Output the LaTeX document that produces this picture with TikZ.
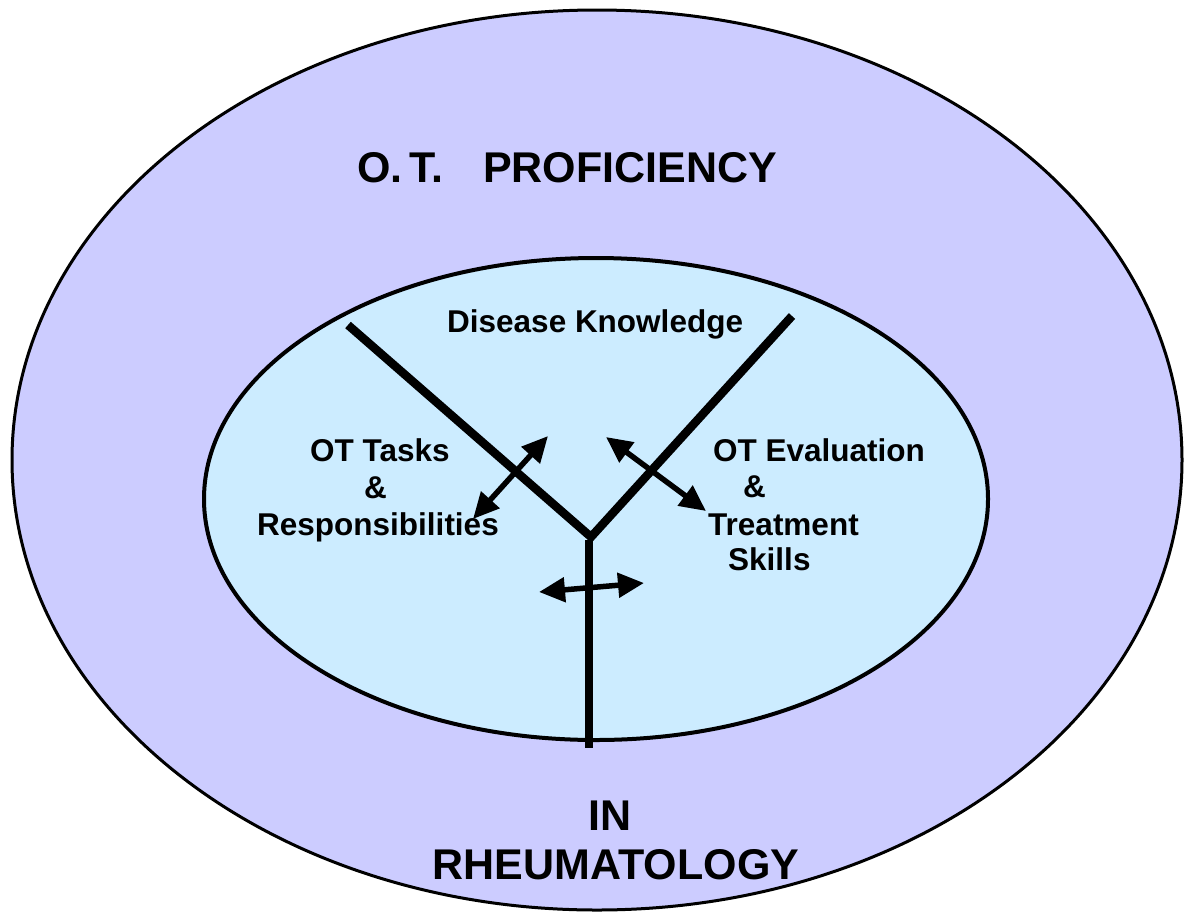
\documentclass[tikz,border=0pt]{standalone}
\usepackage{fontspec}
\setmainfont{Liberation Sans}
\usetikzlibrary{arrows.meta,shapes.geometric}
\definecolor{outerfill}{RGB}{204,204,255}
\definecolor{innerfill}{RGB}{204,236,255}
\begin{document}
\begin{tikzpicture}[x=1pt,y=-1pt,
  ring/.style={ellipse,draw=black,inner sep=0pt},
  bigtxt/.style={font=\fontsize{43}{48}\selectfont\bfseries,inner sep=0pt,anchor=base west},
  smalltxt/.style={font=\fontsize{31.5}{36}\selectfont\bfseries,inner sep=0pt,anchor=base west},
  branch/.style={line width=8.5pt},
  dblarrow/.style={line width=5.5pt,{Triangle[length=26pt,width=24pt]}-{Triangle[length=26pt,width=24pt]}}
]
\useasboundingbox (0,0) rectangle (1185,911);
\node[ring,fill=outerfill,line width=3pt,minimum width=1170pt,minimum height=900pt] (outer) at (597,460) {};
\node[ring,fill=innerfill,line width=4pt,minimum width=784pt,minimum height=482pt] (inner) at (596,499) {};

\coordinate (vl) at (348,325);
\coordinate (vr) at (792,316);
\coordinate (vb) at (591,537);
\coordinate (st) at (589,540);
\coordinate (sb) at (589,748);
\draw[branch,line join=miter] (vl) -- (vb) -- (vr);
\draw[line width=7.5pt] (st) -- (sb);

\coordinate (la) at (473,519);
\coordinate (lb) at (548,436);
\coordinate (ra) at (606,437);
\coordinate (rb) at (706,511);
\coordinate (ha) at (539,592);
\coordinate (hb) at (644,583);
\draw[dblarrow] (la) -- (lb);
\draw[dblarrow] (ra) -- (rb);
\draw[dblarrow] (ha) -- (hb);

\node[bigtxt] (prof) at (357,182) {O.\,T.\hspace{40pt}PROFICIENCY};
\node[bigtxt,anchor=base] (in) at (610,830) {IN};
\node[bigtxt,anchor=base] (rheu) at (616,879) {RHEUMATOLOGY};

\node[smalltxt] (dk) at (447,332) {Disease Knowledge};
\node[smalltxt] (t1) at (310,461) {OT Tasks};
\node[smalltxt] (t2) at (364,498) {\&};
\node[smalltxt] (t3) at (257,535) {Responsibilities};
\node[smalltxt] (e1) at (713,461) {OT Evaluation};
\node[smalltxt] (e2) at (743,497) {\&};
\node[smalltxt] (e3) at (708,535) {Treatment};
\node[smalltxt] (e4) at (728,570) {Skills};
\end{tikzpicture}
\end{document}
